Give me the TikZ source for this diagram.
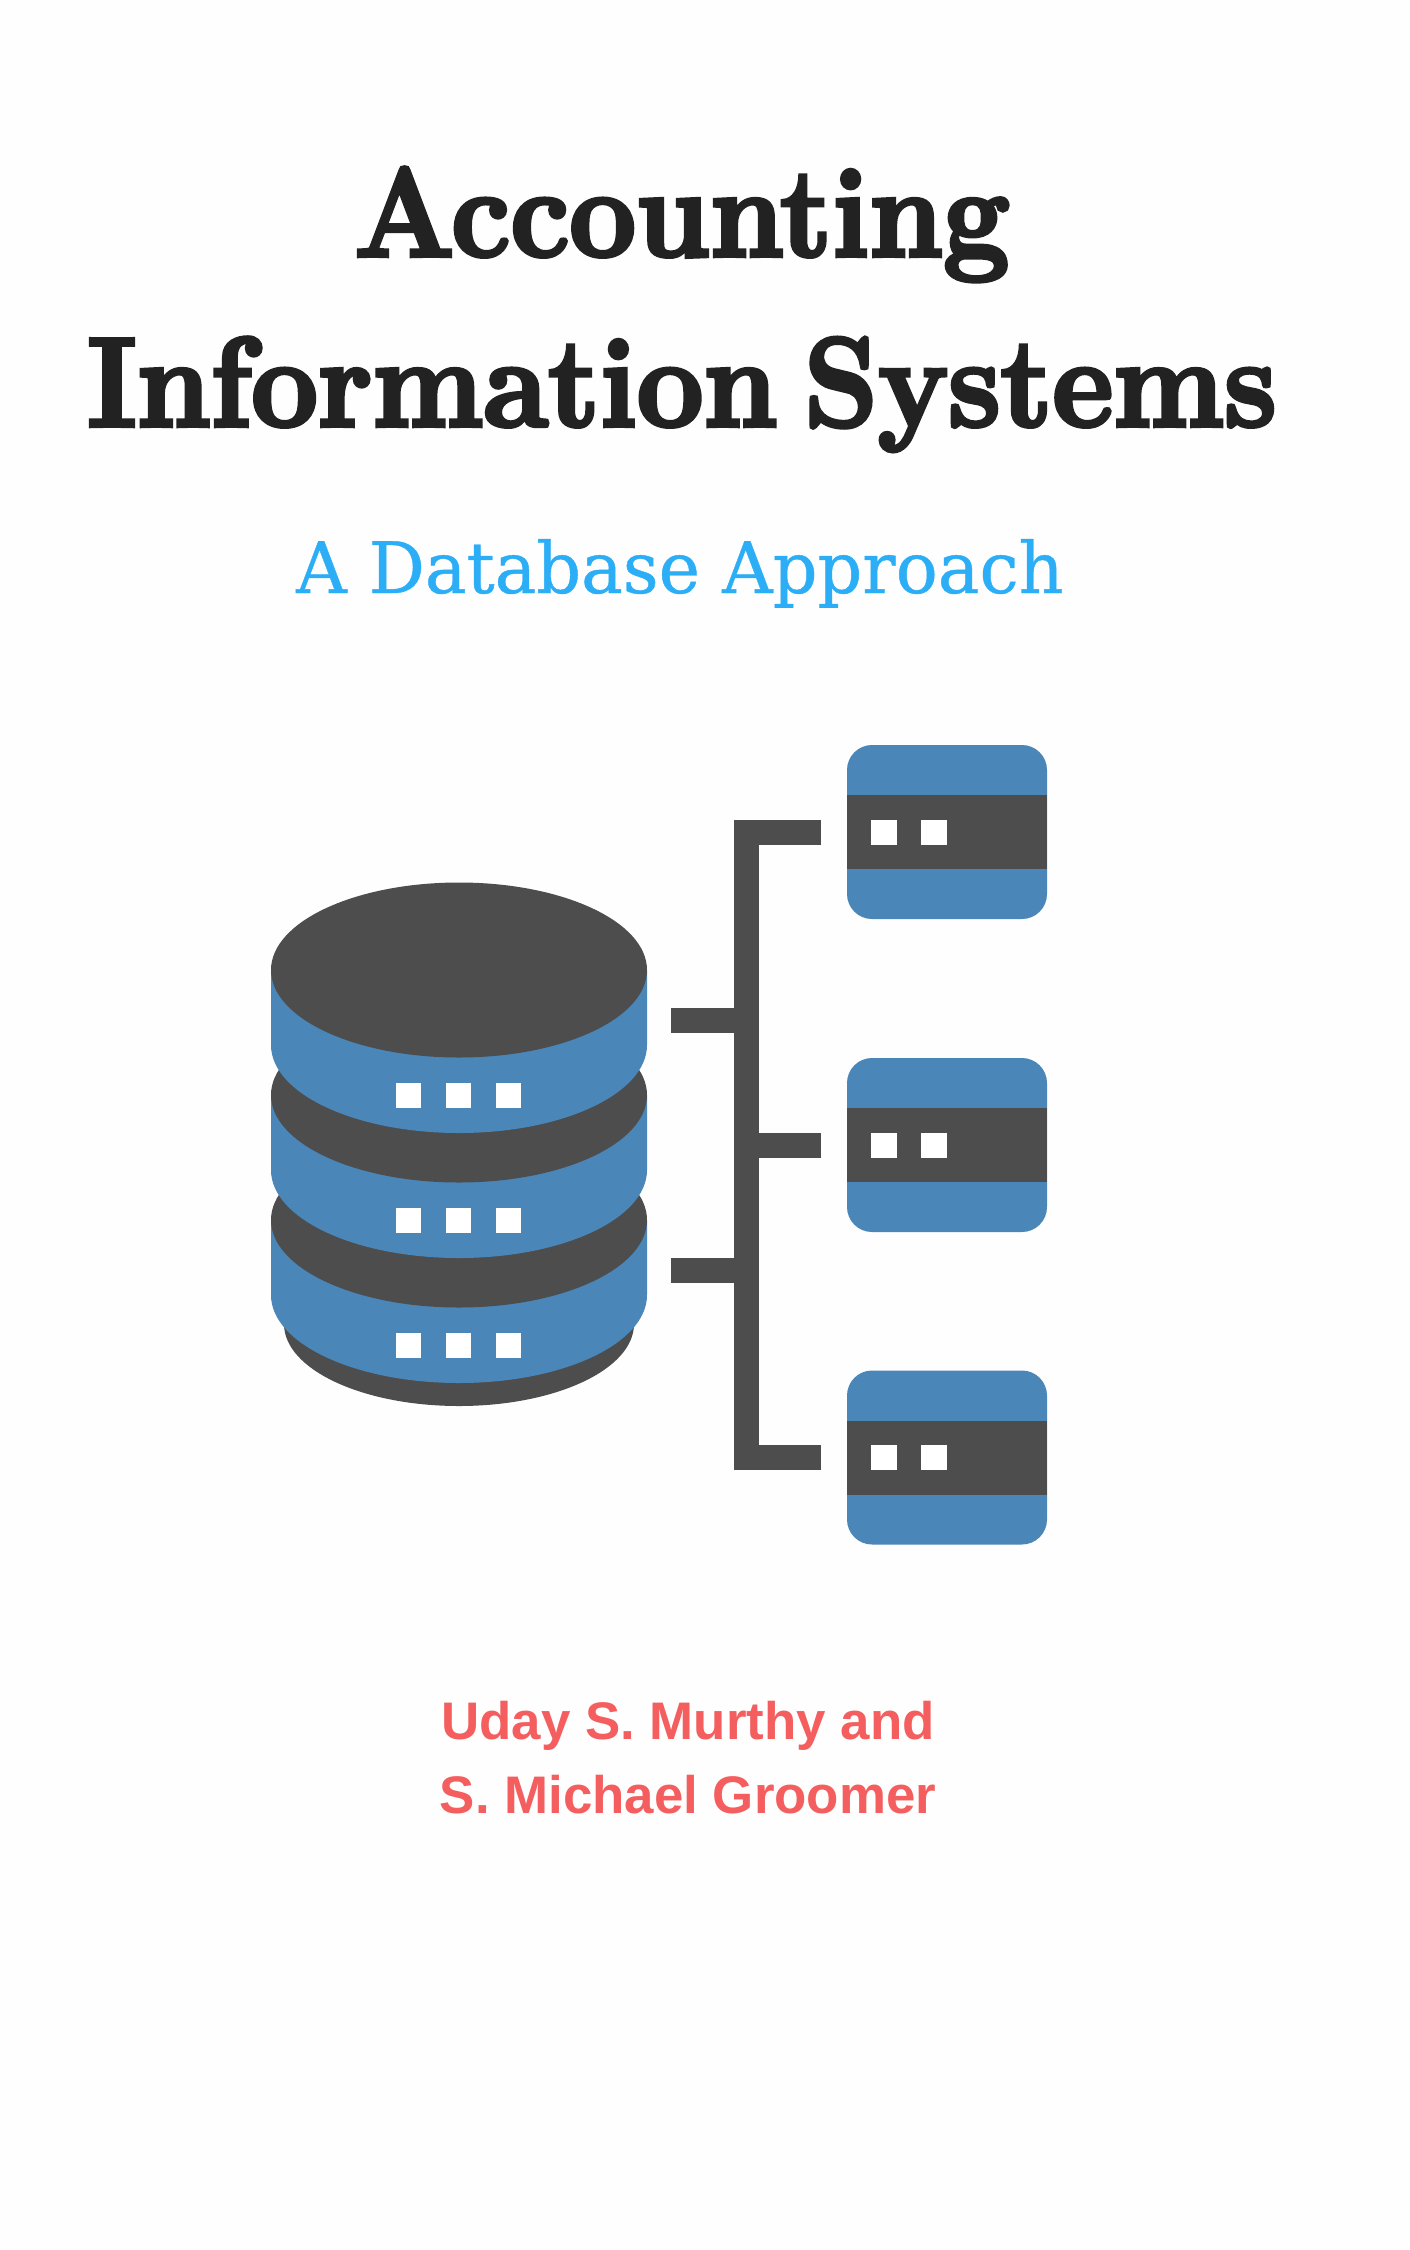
\documentclass[tikz,border=0pt]{standalone}
\usepackage{fontspec}
\usetikzlibrary{calc,positioning}
\newfontfamily\titlefont[BoldFeatures={FakeBold=3.5},WordSpace=0.6]{Latin Modern Roman}
\newfontfamily\authorfont{Liberation Sans}
\newfontfamily\subtitlefont[FakeBold=0.6]{DejaVu Serif}
\definecolor{dbblue}{RGB}{74,134,184}
\definecolor{dbdark}{RGB}{77,77,77}
\definecolor{titleblack}{RGB}{34,34,34}
\definecolor{subblue}{RGB}{44,174,247}
\definecolor{authorred}{RGB}{244,94,94}
\definecolor{paper}{RGB}{254,254,254}
\tikzset{
    unitbox/.style={fill=dbblue,rounded corners=1.25cm,minimum width=10cm,minimum height=8.7cm,inner sep=0pt},
    unitband/.style={fill=dbdark,minimum width=10cm,minimum height=3.7cm,inner sep=0pt},
    led/.style={fill=white,minimum width=1.27cm,minimum height=1.25cm,inner sep=0pt},
    link/.style={draw=dbdark,line width=1.25cm},
    titletext/.style={anchor=base,text=titleblack,xscale=0.935,font=\fontsize{180}{180}\selectfont\titlefont\bfseries},
    authortext/.style={anchor=base,text=authorred,font=\fontsize{75.2}{75.2}\selectfont\authorfont\bfseries},
}
\begin{document}
\begin{tikzpicture}[x=0.05cm,y=0.05cm]
    \useasboundingbox (0,0) rectangle (1410,-2250);
    \fill[paper] (0,0) rectangle (1410,-2250);
    \node (title1) [titletext] at (682,-256) {Accounting};
    \node (title2) [titletext] at (682,-426) {Information Systems};
    \node (subtitle) [anchor=base,text=subblue,xscale=0.985,font=\fontsize{101}{101}\selectfont\subtitlefont] at (680,-593) {A Database Approach};
    \node (author1) [authortext] at (688,-1739) {Uday S. Murthy and};
    \node (author2) [authortext] at (688,-1813) {S. Michael Groomer};
    % database
    \fill[dbdark] (459,-1324) ellipse [x radius=175, y radius=82];
    \foreach \i in {2,1,0} {
        \fill[dbblue] (271,-970-125*\i) -- (271,-1045-125*\i) arc [start angle=180, end angle=360, x radius=188, y radius=88] -- (647,-970-125*\i) -- cycle;
        \fill[dbdark] (459,-970-125*\i) ellipse [x radius=188, y radius=87.5];
        \foreach \x in {408.5,458.5,508.5}
            \node[led] at (\x,-1095-125*\i) {};
    }
    % units
    \foreach \name/\y in {unita/-832,unitb/-1145,unitc/-1457.5} {
        \node[unitbox] (\name) at (947,\y) {};
        \node[unitband] at (\name.center) {};
        \node[led] at ([xshift=-3.15cm]\name.center) {};
        \node[led] at ([xshift=-0.65cm]\name.center) {};
        \coordinate (\name port) at ([xshift=-1.3cm]\name.west);
    }
    \coordinate (busa) at (746,-832);
    \coordinate (busb) at (746,-1145);
    \coordinate (busc) at (746,-1457.5);
    \coordinate (busd) at (746,-1020);
    \coordinate (buse) at (746,-1270);
    \coordinate (dbporta) at (671,-1020);
    \coordinate (dbportb) at (671,-1270);
    \draw[link] (unitaport) -- (busa) -- (busc) -- (unitcport);
    \draw[link] (unitbport) -- (busb);
    \draw[link] (dbporta) -- (busd);
    \draw[link] (dbportb) -- (buse);
\end{tikzpicture}
\end{document}
